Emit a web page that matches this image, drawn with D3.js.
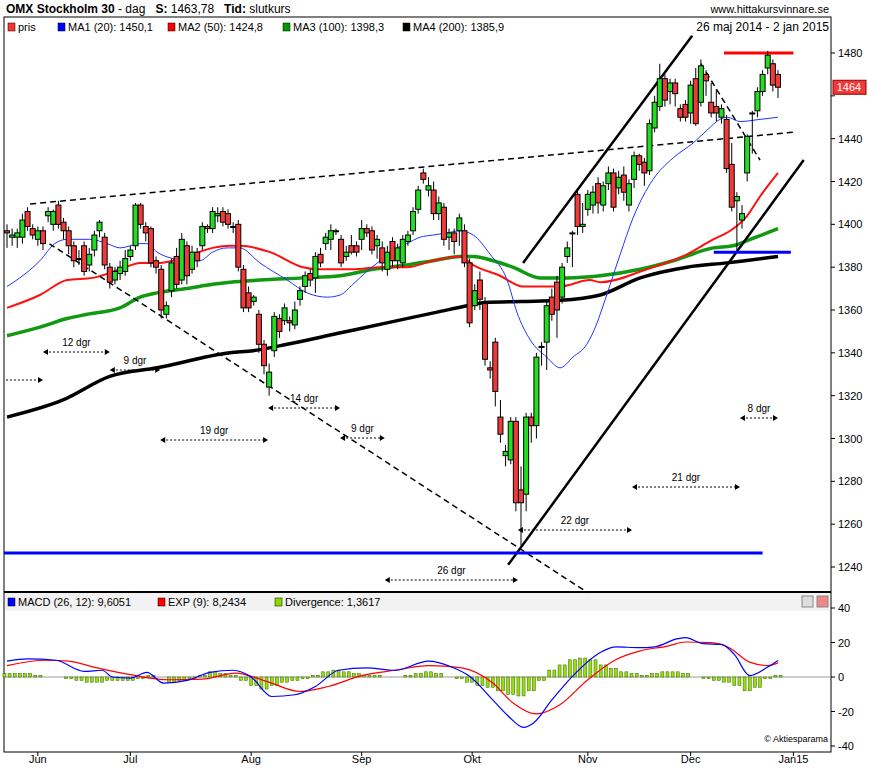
<!DOCTYPE html>
<html><head><meta charset="utf-8">
<script src="https://cdn.jsdelivr.net/npm/d3@7"></script>
<style>body{margin:0;background:#fff}text{font-family:"Liberation Sans",Arial,sans-serif;white-space:pre}</style>
</head><body>
<svg width="876" height="770"></svg>
<script>
// candles: [open, high, low, close], one per trading day (26 maj 2014 - 2 jan 2015)
const candles = [
 [1397,1400,1389,1396],[1394,1398,1390,1395],[1394,1398,1389,1396],[1394,1405,1391,1402],[1406,1408,1397,1399],
 [1398,1400,1393,1395],[1393,1399,1390,1397],[1397,1399,1388,1391],[1404,1408,1401,1406],[1400,1407,1397,1406],
 [1409,1411,1398,1400],[1401,1403,1393,1397],[1397,1399,1386,1390],[1390,1392,1380,1383],[1384,1388,1381,1384],
 [1390,1392,1376,1378],[1381,1389,1378,1386],[1388,1397,1385,1395],[1397,1402,1394,1401],[1394,1396,1379,1381],
 [1380,1382,1370,1373],[1374,1380,1372,1378],[1377,1383,1374,1380],[1378,1388,1376,1384],[1385,1390,1383,1388],
 [1390,1410,1388,1409],[1409,1410,1398,1400],[1399,1401,1392,1396],[1398,1399,1380,1382],[1383,1385,1377,1380],
 [1379,1381,1356,1360],[1358,1364,1356,1362],[1369,1384,1366,1382],[1385,1389,1370,1372],[1374,1396,1372,1393],
 [1390,1392,1372,1376],[1379,1390,1377,1387],[1387,1389,1380,1383],[1390,1401,1388,1399],[1399,1400,1396,1398],
 [1398,1408,1396,1406],[1404,1408,1401,1405],[1406,1408,1399,1401],[1405,1407,1398,1400],[1399,1401,1396,1399],
 [1400,1402,1378,1380],[1379,1381,1359,1361],[1368,1371,1359,1361],[1364,1367,1362,1366],[1358,1360,1340,1344],
 [1344,1346,1330,1334],[1324,1335,1320,1331],[1341,1359,1338,1357],[1356,1358,1347,1350],[1355,1363,1353,1361],
 [1355,1357,1350,1354],[1353,1364,1351,1360],[1365,1371,1362,1369],[1371,1378,1368,1376],[1377,1379,1371,1374],
 [1375,1387,1368,1385],[1386,1389,1380,1382],[1391,1396,1388,1394],[1393,1400,1388,1397],[1397,1398,1395,1397],
 [1393,1395,1380,1382],[1385,1390,1383,1387],[1390,1395,1386,1387],[1390,1392,1385,1387],[1393,1402,1388,1398],
 [1398,1400,1394,1396],[1397,1399,1386,1388],[1390,1395,1384,1393],[1389,1392,1378,1382],[1379,1390,1376,1387],
 [1392,1394,1380,1383],[1383,1391,1379,1389],[1382,1395,1380,1393],[1392,1397,1390,1395],[1397,1408,1395,1406],
 [1407,1418,1405,1416],[1424,1426,1419,1421],[1416,1422,1413,1418],[1416,1420,1402,1405],[1405,1413,1402,1410],
 [1408,1410,1390,1393],[1394,1398,1388,1396],[1396,1398,1386,1392],[1397,1405,1390,1403],[1397,1400,1380,1382],
 [1382,1384,1352,1354],[1362,1372,1360,1369],[1374,1378,1360,1365],[1363,1366,1334,1337],[1333,1336,1328,1332],
 [1345,1347,1315,1322],[1310,1318,1298,1302],[1292,1297,1287,1294],[1290,1310,1288,1308],[1308,1310,1266,1270],
 [1276,1287,1250,1270],[1274,1312,1266,1310],[1310,1312,1298,1306],[1306,1340,1300,1338],[1343,1345,1334,1343],
 [1345,1364,1332,1362],[1366,1370,1355,1358],[1373,1376,1347,1360],[1366,1382,1363,1380],[1385,1392,1382,1389],
 [1396,1397,1380,1396],[1414,1416,1395,1399],[1399,1410,1396,1400],[1407,1416,1404,1414],[1409,1418,1405,1415],
 [1419,1422,1405,1410],[1409,1420,1406,1418],[1419,1427,1416,1424],[1424,1426,1406,1408],[1417,1425,1414,1422],
 [1423,1427,1411,1415],[1409,1421,1406,1419],[1421,1434,1417,1432],[1432,1433,1425,1428],[1429,1431,1418,1424],
 [1425,1449,1423,1447],[1445,1460,1443,1457],[1455,1475,1453,1468],[1468,1470,1455,1458],[1462,1468,1456,1466],
 [1466,1468,1455,1461],[1454,1456,1448,1450],[1456,1458,1448,1450],[1452,1467,1447,1465],[1468,1473,1446,1447],
 [1457,1477,1455,1474],[1470,1472,1460,1467],[1457,1466,1450,1452],[1455,1463,1448,1452],[1450,1456,1447,1454],
 [1449,1451,1424,1426],[1428,1438,1406,1408],[1411,1415,1388,1413],[1402,1409,1398,1405],[1424,1442,1420,1441],
 [1452,1453,1433,1452],[1453,1464,1450,1462],[1462,1472,1460,1470],[1473,1481,1470,1479],[1475,1477,1462,1465],
 [1470,1472,1459,1464]
]
// moving averages, sampled [day, value]
const ma20 = [[0,1371],[2.5,1375],[6.4,1383],[9.3,1391],[11.7,1393],[16.1,1393],[19.5,1391],[22,1389],[25.9,1391],[27.2,1391],
 [29.2,1387],[32.3,1384],[35,1383],[37.5,1383],[40,1387],[42.8,1389],[45.3,1389],[49.2,1382],[54.5,1374],[58.4,1368],
 [62.3,1366],[64.8,1367],[67.3,1372],[70,1378],[72.6,1383],[75.1,1388],[77.8,1391],[80.4,1394],[82.9,1395],[85.6,1396],
 [88.1,1397],[90.7,1395],[94,1386],[97.3,1374],[99.2,1359],[101.8,1346],[105,1338],[107.6,1333],[110.1,1338],[112.8,1344],
 [114.8,1354],[115.4,1358],[119.3,1386],[121.8,1403],[125.7,1421],[129.6,1431],[133.5,1438],[136.2,1444],[138.7,1449],
 [140.1,1450],[142.6,1448],[146.5,1449],[150,1450]]
const ma50 = [[0,1361],[6.4,1367],[11.7,1374],[16.7,1375],[22,1379],[25.9,1382],[29.8,1382],[35,1385],[40,1389],[43.4,1390],
 [45.3,1390],[51.2,1387],[57.6,1380],[60.9,1379],[67.3,1379],[72.6,1380],[77.8,1380],[82.9,1383],[88.1,1385],[90.7,1381],
 [95.9,1376],[100.4,1371],[105.6,1371],[107.6,1371],[113.4,1374],[115.4,1373],[124.5,1379],[132.3,1386],[137.4,1393],
 [140.7,1397],[144,1404],[146.5,1413],[150,1424]]
const ma100 = [[0,1348],[6.4,1352],[11.7,1356],[15.6,1358],[22,1361],[25.9,1366],[29.2,1368],[35,1370],[40,1372],[43.4,1373],
 [49.2,1374],[57.6,1375],[64.8,1376],[71.2,1379],[77.8,1381],[82.9,1383],[88.1,1385],[90.7,1385],[94.6,1383],[98.4,1380],
 [103.7,1375],[109,1375],[115.4,1376],[123.2,1379],[129.6,1383],[137.4,1389],[141.2,1390],[144.6,1393],[150,1398]]
const ma200 = [[0,1310],[10.9,1318],[20,1329],[29.2,1333],[43.4,1340],[47.9,1341],[54.5,1344],[64.2,1349],[73.9,1354],
 [83.7,1359],[89.5,1362],[93,1363.5],[100,1364],[107.6,1364.5],[115.4,1367],[123.2,1375],[132.3,1380],[140.1,1382],[150,1385]]
// MACD panel, sampled [day, value]
const macd = [[0,9.2],[4,10.5],[9.5,9.7],[15,3.3],[18.5,3.9],[20.5,0],[24,-0.6],[27.2,2.7],[30.5,-3.5],[35,-2],[39.5,2.7],
 [44,3.9],[47.5,0],[51.5,-11.3],[56,-10.3],[60,-5.5],[64.5,3.9],[70,5.3],[75.5,3.9],[82,9.2],[86.5,5.8],[90,0.4],
 [94.5,-13.3],[97.5,-22.6],[100.5,-29.2],[102.5,-26.5],[106,-13.3],[110,0.4],[115.5,14.4],[118.5,17.5],[123,17],
 [126,17.5],[130.5,22.2],[132,22.8],[135.5,19.3],[139,18.9],[141.5,13.1],[144.5,0.8],[148,5.8],[150,9.6]]
const expLine = [[0,6.6],[7.5,9.7],[12,9.2],[17.5,5.3],[24,1.4],[31.5,-1.6],[38,-1.2],[44.5,2.3],[50.5,-2.5],[57,-8.4],
 [62.5,-5.5],[69,0.8],[75.5,3.9],[82,6.6],[88.5,5.3],[94.5,-3.5],[98.5,-15.2],[103,-21.4],[107.5,-16.2],[113,-1.6],
 [118.5,10.1],[123,15],[128.5,17.9],[132,20.3],[137,19.9],[140.5,17],[144.5,8.6],[148,6.6],[150,8.2]]
// divergence read every second day, days 0..150
const divergence = [2,2,2,1,0,0,-1,-2,-3,-3,-2,-2,-2,-1,1,0,-3,-2,-1,1,3,2,1,-2,-5,-7,-5,-3,-2,-1,1,3,4,3,2,1,1,0,0,1,
 2,3,2,0,-1,-3,-5,-6,-8,-10,-11,-8,-2,4,7,10,11,10,7,5,3,2,1,2,3,3,2,0,-1,-2,-3,-5,-8,-6,-1,1]
const months = [['Jun',6],['Jul',24],['Aug',47.5],['Sep',69],['Okt',90.5],['Nov',113],['Dec',133],['Jan15',153]]
const priceTicks = d3.range(1240, 1481, 20)
const macdTicks = [40, 20, 0, -20, -40]
// drawn trendlines [day, price]
const dashedLines = [[[4.5,1409.5],[153,1443]], [[5,1396],[113,1228]], [[135,1475],[146.5,1430]]]
const solidLines = [[[100.4,1382],[133.3,1488]], [[97.5,1241],[155,1430]]]
const levels = [{from:139.5,to:153,v:1480,c:'#ff0000'},{from:137.5,to:152.5,v:1387,c:'#0000ff'},{from:-0.6,to:147,v:1246.5,c:'#0000ff'}]
const spans = [[-0.6,7,380,''],[7,20,352,'12 dgr'],[20,29.8,370,'9 dgr'],[29.8,50.8,440,'19 dgr'],[50.8,64.8,408,'14 dgr'],
 [64.8,73.5,438,'9 dgr'],[73.5,99.4,580,'26 dgr'],[99.4,121.6,530,'22 dgr'],[121.6,142.6,487,'21 dgr'],[142.6,150,418,'8 dgr']]

const svg = d3.select('svg')
const x = d3.scaleLinear().domain([0, 150]).range([7, 778])
const y = d3.scaleLinear().domain([1240, 1480]).range([567, 53])
const ym = d3.scaleLinear().domain([-40, 40]).range([746, 608])
const R = 831

// header
const hdr = svg.append('text').attr('x', 6).attr('y', 13).attr('font-size', 12)
hdr.append('tspan').attr('font-weight', 'bold').text('OMX Stockholm 30')
hdr.append('tspan').text(' - dag   ')
hdr.append('tspan').attr('font-weight', 'bold').text('S:')
hdr.append('tspan').text(' 1463,78   ')
hdr.append('tspan').attr('font-weight', 'bold').text('Tid:')
hdr.append('tspan').text(' slutkurs')
svg.append('text').attr('x', R - 2).attr('y', 13).attr('text-anchor', 'end').attr('font-size', 11).text('www.hittakursvinnare.se')

// frames
svg.append('rect').attr('x', 4).attr('y', 17).attr('width', R - 4).attr('height', 735).attr('fill', 'none').attr('stroke', '#000')
svg.append('line').attr('x1', 4).attr('x2', R).attr('y1', 592).attr('y2', 592).attr('stroke', '#000').attr('stroke-width', 2)
svg.append('rect').attr('x', 5).attr('y', 593).attr('width', R - 6).attr('height', 18).attr('fill', '#f2f2f2')

const legend = (items, yy) => {
  let cx = 8
  items.forEach(([c, t, w]) => {
    svg.append('rect').attr('x', cx).attr('y', yy - 8).attr('width', 7).attr('height', 8).attr('fill', c).attr('stroke', '#000').attr('stroke-width', 0.5)
    svg.append('text').attr('x', cx + 10).attr('y', yy).attr('font-size', 11).text(t)
    cx += w
  })
}
legend([['#ff3030','pris',50],['#0000ff','MA1 (20): 1450,1',110],['#ff0000','MA2 (50): 1424,8',115],['#009900','MA3 (100): 1398,3',120],['#000','MA4 (200): 1385,9',150]], 31)
svg.append('text').attr('x', R - 2).attr('y', 31).attr('text-anchor', 'end').attr('font-size', 12).text('26 maj 2014 - 2 jan 2015')
legend([['#0000ff','MACD (26, 12): 9,6051',150],['#ff0000','EXP (9): 8,2434',117],['#88dd00','Divergence: 1,3617',150]], 606)
svg.append('rect').attr('x', 802).attr('y', 596).attr('width', 11).attr('height', 11).attr('fill', '#ddd').attr('stroke', '#888')
svg.append('rect').attr('x', 817).attr('y', 596).attr('width', 11).attr('height', 11).attr('fill', '#e88').attr('stroke', '#888')

// axes (1460 label is covered by the last-price box)
priceTicks.forEach(v => {
  svg.append('line').attr('x1', R).attr('x2', R + 4).attr('y1', y(v)).attr('y2', y(v)).attr('stroke', '#000')
  if (v !== 1460) svg.append('text').attr('x', 838).attr('y', y(v) + 4).attr('font-size', 11).text(v)
})
macdTicks.forEach(v => {
  svg.append('line').attr('x1', R).attr('x2', R + 4).attr('y1', ym(v)).attr('y2', ym(v)).attr('stroke', '#000')
  svg.append('text').attr('x', 838).attr('y', ym(v) + 4).attr('font-size', 11).text(v)
})
months.forEach(([m, d]) => {
  svg.append('line').attr('x1', x(d)).attr('x2', x(d)).attr('y1', 752).attr('y2', 756).attr('stroke', '#000')
  svg.append('text').attr('x', x(d)).attr('y', 763).attr('text-anchor', 'middle').attr('font-size', 11).text(m)
})

const main = svg.append('g')
const line = d3.line().x(d => x(d[0])).y(d => y(d[1])).curve(d3.curveMonotoneX)
main.append('path').attr('d', line(ma200)).attr('fill', 'none').attr('stroke', '#000').attr('stroke-width', 3.5)
main.append('path').attr('d', line(ma100)).attr('fill', 'none').attr('stroke', '#119911').attr('stroke-width', 3.5)
main.append('path').attr('d', line(ma50)).attr('fill', 'none').attr('stroke', '#ff1010').attr('stroke-width', 2)
main.append('path').attr('d', line(ma20)).attr('fill', 'none').attr('stroke', '#2233ff').attr('stroke-width', 1)

// trendlines
const seg = (p, dash, w) => main.append('line').attr('x1', x(p[0][0])).attr('y1', y(p[0][1])).attr('x2', x(p[1][0])).attr('y2', y(p[1][1]))
  .attr('stroke', '#000').attr('stroke-width', w).attr('stroke-dasharray', dash)
dashedLines.forEach(p => seg(p, '6,4', 1.5))
solidLines.forEach(p => seg(p, null, 2.5))
levels.forEach(l => main.append('line').attr('x1', x(l.from)).attr('x2', x(l.to)).attr('y1', y(l.v)).attr('y2', y(l.v)).attr('stroke', l.c).attr('stroke-width', 3))

// day spans
spans.forEach(([a, b, yy, t]) => {
  const x1 = x(a), x2 = x(b)
  main.append('line').attr('x1', x1 + 2).attr('x2', x2 - 2).attr('y1', yy).attr('y2', yy).attr('stroke', '#000').attr('stroke-dasharray', '2,2')
  if (t) main.append('path').attr('d', `M${x1},${yy}l5,-3v6z`).attr('fill', '#000')
  main.append('path').attr('d', `M${x2},${yy}l-5,-3v6z`).attr('fill', '#000')
  if (t) main.append('text').attr('x', (x1 + x2) / 2).attr('y', yy - 6).attr('text-anchor', 'middle').attr('font-size', 10).text(t)
})

// candles
const cg = main.selectAll('g.c').data(candles).enter().append('g')
cg.append('line').attr('x1', (d, i) => x(i)).attr('x2', (d, i) => x(i)).attr('y1', d => y(d[1])).attr('y2', d => y(d[2])).attr('stroke', '#000')
cg.append('rect').attr('x', (d, i) => x(i) - 2.5).attr('width', 5)
  .attr('y', d => y(Math.max(d[0], d[3]))).attr('height', d => Math.max(1, Math.abs(y(d[0]) - y(d[3]))))
  .attr('fill', d => d[3] >= d[0] ? '#22dd22' : '#f03a3a').attr('stroke', '#000').attr('stroke-width', 1)

// last price label
svg.append('rect').attr('x', 833).attr('y', y(1464) - 7).attr('width', 33).attr('height', 14).attr('fill', '#f03a3a').attr('stroke', '#900')
svg.append('text').attr('x', 849).attr('y', y(1464) + 4).attr('text-anchor', 'middle').attr('fill', '#fff').attr('font-size', 11).text('1464')

// MACD: each divergence reading drawn as a pair of daily bars
svg.append('line').attr('x1', 5).attr('x2', R).attr('y1', ym(0)).attr('y2', ym(0)).attr('stroke', '#999')
const bars = divergence.flatMap((v, i) => [[i * 2 - 0.5, v], [i * 2 + 0.5, v]])
svg.selectAll('rect.h').data(bars).enter().append('rect')
  .attr('x', d => x(d[0]) - 1.5).attr('width', 3)
  .attr('y', d => ym(Math.max(0, d[1]))).attr('height', d => Math.abs(ym(d[1]) - ym(0)))
  .attr('fill', '#99dd11').attr('stroke', '#336600').attr('stroke-width', 0.5)
const mline = d3.line().x(d => x(d[0])).y(d => ym(d[1])).curve(d3.curveMonotoneX)
svg.append('path').attr('d', mline(expLine)).attr('fill', 'none').attr('stroke', '#ff0000').attr('stroke-width', 1.2)
svg.append('path').attr('d', mline(macd)).attr('fill', 'none').attr('stroke', '#0000ff').attr('stroke-width', 1.2)
svg.append('text').attr('x', 828).attr('y', 742).attr('text-anchor', 'end').attr('font-size', 9).text('© Aktiesparama')
</script>
</body></html>
